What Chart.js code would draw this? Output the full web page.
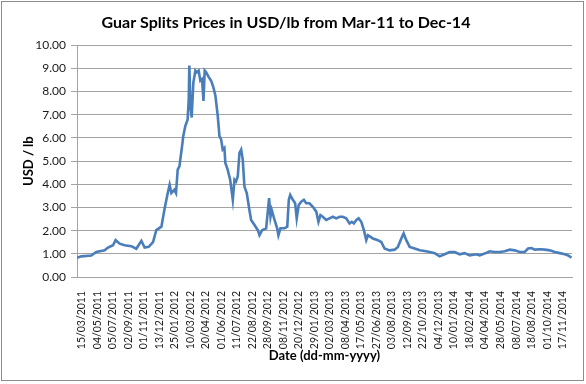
<!DOCTYPE html>
<html>
<head>
<meta charset="utf-8">
<script src="https://cdn.jsdelivr.net/npm/chart.js@4.4.1/dist/chart.umd.min.js"></script>
<style>
  html, body { margin: 0; padding: 0; background: #fff; }
  #wrap { width: 586px; height: 384px; }
</style>
</head>
<body>
<div id="wrap"><canvas id="chart" width="586" height="384"></canvas></div>
<script>
// tick labels on the date axis (one per category step)
const tickLabels = [
  '15/03/2011', '04/05/2011', '05/07/2011', '02/09/2011', '01/11/2011', '13/12/2011',
  '25/01/2012', '10/03/2012', '20/04/2012', '01/06/2012', '11/07/2012', '22/08/2012',
  '28/09/2012', '08/11/2012', '20/12/2012', '29/01/2013', '02/03/2013', '08/04/2013',
  '17/05/2013', '27/06/2013', '03/08/2013', '12/09/2013', '22/10/2013', '04/12/2013',
  '10/01/2014', '18/02/2014', '04/04/2014', '28/05/2014', '08/07/2014', '18/08/2014',
  '01/10/2014', '17/11/2014'
];

// position along the date axis, in label steps (0 = 15/03/2011)
const datePos = [
  -0.3, -0.03, 0.62, 0.94, 1.48, 1.70, 2.02, 2.19, 2.45, 2.77, 3.20, 3.52, 3.85, 4.06, 4.32, 4.60,
  4.81, 5.14, 5.35, 5.46, 5.57, 5.67, 5.78, 5.97, 6.08, 6.19, 6.30, 6.47, 6.55, 6.68, 6.83, 6.90,
  6.94, 7.01, 7.09, 7.20, 7.33, 7.41, 7.54, 7.65, 7.76, 7.85, 7.93, 8.02, 8.19, 8.34, 8.49, 8.62,
  8.77, 8.88, 8.99, 9.09, 9.20, 9.26, 9.41, 9.57, 9.74, 9.85, 9.95, 10.06, 10.17, 10.28, 10.38, 10.49,
  10.64, 10.81, 10.92, 11.14, 11.35, 11.46, 11.63, 11.89, 12.08, 12.17, 12.25, 12.43, 12.60, 12.68, 12.81, 13.07,
  13.25, 13.35, 13.44, 13.61, 13.76, 13.86, 13.99, 14.15, 14.32, 14.47, 14.68, 14.90, 15.12, 15.26, 15.39, 15.54,
  15.76, 15.97, 16.19, 16.41, 16.62, 16.83, 17.05, 17.26, 17.41, 17.54, 17.70, 17.85, 18.02, 18.19, 18.34, 18.45,
  18.62, 18.77, 19.09, 19.31, 19.52, 19.84, 20.17, 20.38, 20.60, 20.75, 20.92, 21.14, 21.46, 21.79, 22.10, 22.43,
  22.75, 23.07, 23.39, 23.72, 24.04, 24.36, 24.68, 25.01, 25.44, 25.65, 25.97, 26.30, 26.62, 26.94, 27.27, 27.59,
  27.91, 28.23, 28.55, 28.77, 28.99, 29.20, 29.52, 29.85, 30.17, 30.49, 30.81, 31.14, 31.35, 31.57
];

// guar splits price, USD/lb
const prices = [
  0.83, 0.89, 0.93, 1.08, 1.15, 1.27, 1.37, 1.59, 1.44, 1.37, 1.33, 1.22, 1.56, 1.27, 1.30, 1.51,
  2.02, 2.17, 2.97, 3.33, 3.69, 3.98, 3.62, 3.76, 3.62, 4.63, 4.77, 5.64, 6.08, 6.51, 6.80, 7.67,
  9.12, 7.38, 6.88, 8.40, 8.90, 8.83, 8.90, 8.47, 8.54, 7.60, 8.90, 8.83, 8.62, 8.47, 8.18, 7.82,
  6.95, 6.08, 5.93, 5.50, 5.57, 4.92, 4.63, 4.20, 3.33, 4.20, 4.12, 4.34, 5.36, 5.50, 5.07, 3.90,
  3.62, 2.89, 2.46, 2.24, 2.02, 1.80, 2.02, 2.10, 3.40, 2.60, 2.89, 2.46, 2.10, 1.80, 2.10, 2.10,
  2.17, 3.33, 3.54, 3.33, 3.18, 2.53, 3.11, 3.25, 3.33, 3.18, 3.18, 3.03, 2.82, 2.38, 2.67, 2.60,
  2.46, 2.53, 2.60, 2.53, 2.60, 2.60, 2.53, 2.31, 2.38, 2.31, 2.46, 2.53, 2.38, 2.02, 1.59, 1.80,
  1.73, 1.66, 1.59, 1.51, 1.23, 1.15, 1.18, 1.30, 1.66, 1.88, 1.59, 1.30, 1.23, 1.15, 1.12, 1.08,
  1.03, 0.89, 0.98, 1.08, 1.08, 0.98, 1.03, 0.93, 0.98, 0.93, 1.01, 1.11, 1.08, 1.08, 1.11, 1.18,
  1.15, 1.08, 1.08, 1.23, 1.25, 1.18, 1.20, 1.18, 1.15, 1.08, 1.03, 0.98, 0.93, 0.83
];

const yTicks = [0, 1, 2, 3, 4, 5, 6, 7, 8, 9, 10];

const FONT = 'Lato, "Open Sans", sans-serif';
const GRID = '#a3a3a3';

const frame = {
  id: 'frame',
  beforeDraw(chart) {
    const c = chart.ctx;
    c.save();
    c.fillStyle = '#fff';
    c.fillRect(0, 0, chart.width, chart.height);
    c.restore();
  },
  afterDraw(chart) {
    const c = chart.ctx;
    c.save();
    c.strokeStyle = '#8c8c8c';
    c.lineWidth = 1;
    c.strokeRect(1.5, 1.5, 582, 379);
    c.restore();
  }
};

new Chart(document.getElementById('chart'), {
  type: 'line',
  data: {
    datasets: [{
      data: datePos.map((x, i) => ({ x: x, y: prices[i] })),
      borderColor: '#4a7ebb',
      borderWidth: 2.6,
      pointRadius: 0,
      tension: 0,
      fill: false
    }]
  },
  options: {
    responsive: false,
    animation: false,
    layout: { padding: { left: 0, right: 14, top: 0, bottom: 0 } },
    plugins: {
      legend: { display: false },
      tooltip: { enabled: false },
      title: {
        display: true,
        text: 'Guar Splits Prices in USD/lb from Mar-11 to Dec-14',
        color: '#000',
        font: { family: FONT, size: 16, weight: 'bold' },
        padding: { top: 13, bottom: 13 }
      }
    },
    scales: {
      x: {
        type: 'linear',
        min: -0.3,
        max: 31.6,
        afterFit: s => { s.height = 107; },
        afterBuildTicks: s => { s.ticks = tickLabels.map((_, i) => ({ value: i })); },
        grid: { display: false },
        border: { display: true, color: GRID },
        ticks: {
          autoSkip: false,
          minRotation: 90,
          maxRotation: 90,
          padding: 6,
          color: '#1a1a1a',
          font: { family: FONT, size: 10.5 },
          callback: v => tickLabels[v]
        },
        title: {
          display: true,
          text: 'Date (dd-mm-yyyy)',
          color: '#000',
          font: { family: FONT, size: 13, weight: 'bold' },
          padding: { top: 0, bottom: 20 }
        }
      },
      y: {
        min: 0,
        max: 10,
        afterFit: s => { s.width = 77; },
        afterBuildTicks: s => { s.ticks = yTicks.map(v => ({ value: v })); },
        grid: { color: GRID, lineWidth: 1, tickLength: 6 },
        border: { display: true, color: GRID },
        ticks: {
          padding: 5,
          color: '#1a1a1a',
          font: { family: FONT, size: 12 },
          callback: v => v.toFixed(2)
        },
        title: {
          display: true,
          text: 'USD / lb',
          color: '#000',
          font: { family: FONT, size: 13, weight: 'bold' },
          padding: { top: 21, bottom: 0 }
        }
      }
    }
  },
  plugins: [frame]
});
</script>
</body>
</html>
